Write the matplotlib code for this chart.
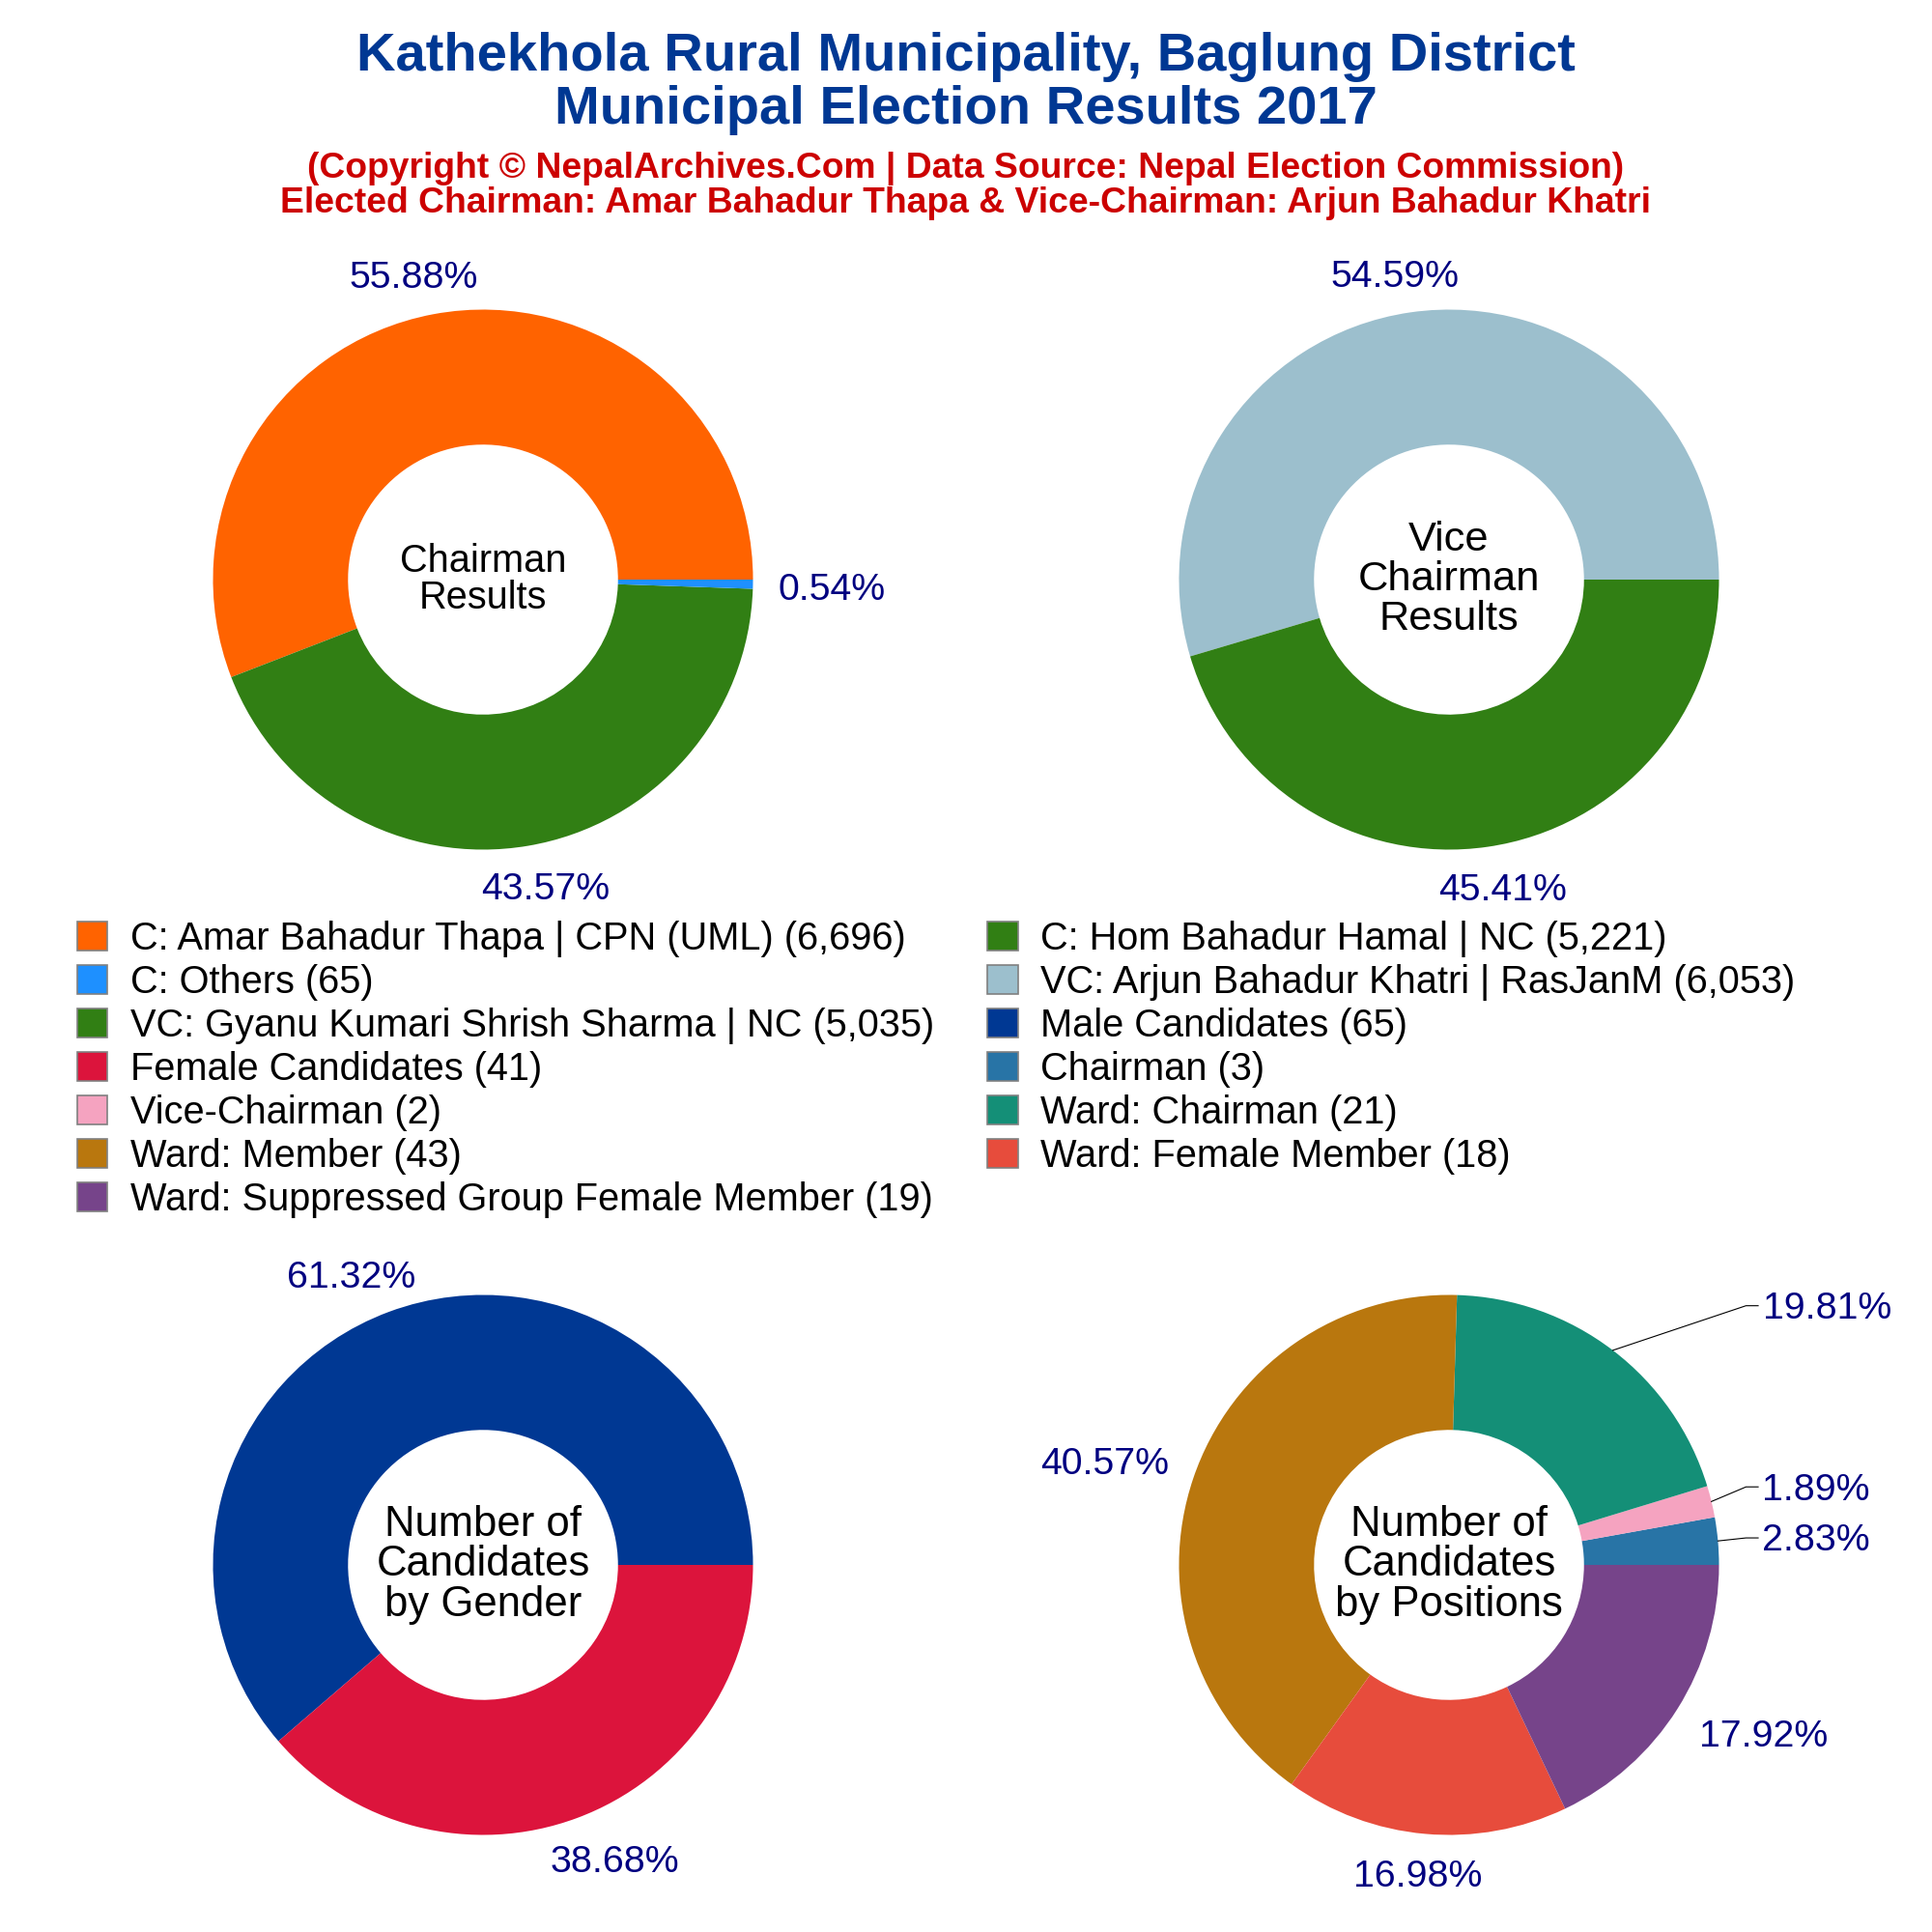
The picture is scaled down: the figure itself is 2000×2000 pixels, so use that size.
import matplotlib
matplotlib.use("Agg")
import matplotlib.pyplot as plt
import numpy as np
from matplotlib.patches import Patch

plt.rcParams['font.family'] = ['Liberation Sans', 'DejaVu Sans']

# chart values
chairman_names = ['C: Amar Bahadur Thapa | CPN (UML)', 'C: Hom Bahadur Hamal | NC', 'C: Others']
chairman_votes = [6696, 5221, 65]
chairman_colors = ['#FF6300', '#317F14', '#1E90FF']

vice_names = ['VC: Arjun Bahadur Khatri | RasJanM', 'VC: Gyanu Kumari Shrish Sharma | NC']
vice_votes = [6053, 5035]
vice_colors = ['#9CBFCD', '#317F14']

gender_names = ['Male Candidates', 'Female Candidates']
gender_counts = [65, 41]
gender_colors = ['#003893', '#DC143C']

position_names = ['Chairman', 'Vice-Chairman', 'Ward: Chairman', 'Ward: Member',
                  'Ward: Female Member', 'Ward: Suppressed Group Female Member']
position_counts = [3, 2, 21, 43, 18, 19]
position_colors = ['#2874A6', '#F5A3C0', '#148F77', '#B9770E', '#E74C3C', '#76448A']

PX = 2000.0
RADIUS = 279.5
HALF = 1.6  # axes half width in pie radii
PCT_COLOR = '#000080'
PCT_SIZE = 28.3


def draw_donut(cx, cy, values, colors, label_xy, center_text, center_size, line_gap=1.02):
    size = 2 * HALF * RADIUS
    ax = fig.add_axes([(cx - size / 2) / PX, 1 - (cy + size / 2) / PX, size / PX, size / PX])
    ax.pie(values, colors=colors, startangle=0, counterclock=True, radius=1,
           wedgeprops={'width': 0.5, 'linewidth': 0})
    ax.set_xlim(-HALF, HALF)
    ax.set_ylim(-HALF, HALF)
    ax.set_aspect('equal')
    ax.axis('off')
    total = sum(values)
    for val, (x, y) in zip(values, label_xy):
        ax.text(x, y - 0.012, f"{val / total * 100:.2f}%", color=PCT_COLOR, fontsize=PCT_SIZE,
                ha='center', va='center')
    ax.text(0, 0, center_text, fontsize=center_size, ha='center', va='center',
            multialignment='center', linespacing=line_gap)
    return ax


def connector(ax, values, idx, end_y):
    # thin leader line from the wedge edge to the label
    total = sum(values)
    mid = (sum(values[:idx]) + values[idx] / 2) / total * 2 * np.pi
    ax.plot([np.cos(mid), 1.10, 1.145], [np.sin(mid), end_y, end_y], color='black', lw=0.8)


fig = plt.figure(figsize=(20, 20), dpi=100, facecolor='white')

fig.text(0.5, 1 - 73 / PX, 'Kathekhola Rural Municipality, Baglung District', color='#003893',
         fontsize=40.4, fontweight='bold', ha='center', va='baseline')
fig.text(0.5, 1 - 128 / PX, 'Municipal Election Results 2017', color='#003893',
         fontsize=40.4, fontweight='bold', ha='center', va='baseline')
fig.text(0.5, 1 - 184 / PX, '(Copyright © NepalArchives.Com | Data Source: Nepal Election Commission)',
         color='#CC0000', fontsize=26.8, fontweight='bold', ha='center', va='baseline')
fig.text(0.5, 1 - 220 / PX, 'Elected Chairman: Amar Bahadur Thapa & Vice-Chairman: Arjun Bahadur Khatri',
         color='#CC0000', fontsize=26.8, fontweight='bold', ha='center', va='baseline')

draw_donut(500, 600, chairman_votes, chairman_colors,
           [(-0.256, 1.128), (0.233, -1.137), (1.292, -0.027)],
           'Chairman\nResults', 28.6)
draw_donut(1500, 600, vice_votes, vice_colors,
           [(-0.20, 1.132), (0.20, -1.14)],
           'Vice\nChairman\nResults', 31.2)
draw_donut(500, 1620, gender_counts, gender_colors,
           [(-0.489, 1.073), (0.489, -1.09)],
           'Number of\nCandidates\nby Gender', 31.4)
ax_pos = draw_donut(1500, 1620, position_counts, position_colors,
                    [(1.358, 0.10), (1.36, 0.289), (1.40, 0.96), (-1.274, 0.385),
                     (-0.114, -1.142), (1.164, -0.626)],
                    'Number of\nCandidates\nby Positions', 31.4)
connector(ax_pos, position_counts, 0, 0.10)
connector(ax_pos, position_counts, 1, 0.289)
connector(ax_pos, position_counts, 2, 0.96)

# legend runs down the columns, left column first
legend_order = [
    (chairman_names[0], chairman_votes[0], chairman_colors[0]),
    (chairman_names[2], chairman_votes[2], chairman_colors[2]),
    (vice_names[1], vice_votes[1], vice_colors[1]),
    (gender_names[1], gender_counts[1], gender_colors[1]),
    (position_names[1], position_counts[1], position_colors[1]),
    (position_names[3], position_counts[3], position_colors[3]),
    (position_names[5], position_counts[5], position_colors[5]),
    (chairman_names[1], chairman_votes[1], chairman_colors[1]),
    (vice_names[0], vice_votes[0], vice_colors[0]),
    (gender_names[0], gender_counts[0], gender_colors[0]),
    (position_names[0], position_counts[0], position_colors[0]),
    (position_names[2], position_counts[2], position_colors[2]),
    (position_names[4], position_counts[4], position_colors[4]),
]
handles = [Patch(facecolor=c, edgecolor='#808080', linewidth=1.2, label=f"{n} ({v:,})")
           for n, v, c in legend_order]
fig.legend(handles=handles, ncol=2, loc='upper left', bbox_to_anchor=(79.5 / PX, 1 - 953 / PX),
           frameon=False, fontsize=28.6, borderpad=0, borderaxespad=0,
           handlelength=0.8, handleheight=0.8, handletextpad=0.6,
           labelspacing=0.176, columnspacing=1.37)

fig.savefig('out.png', dpi=100, facecolor='white')
